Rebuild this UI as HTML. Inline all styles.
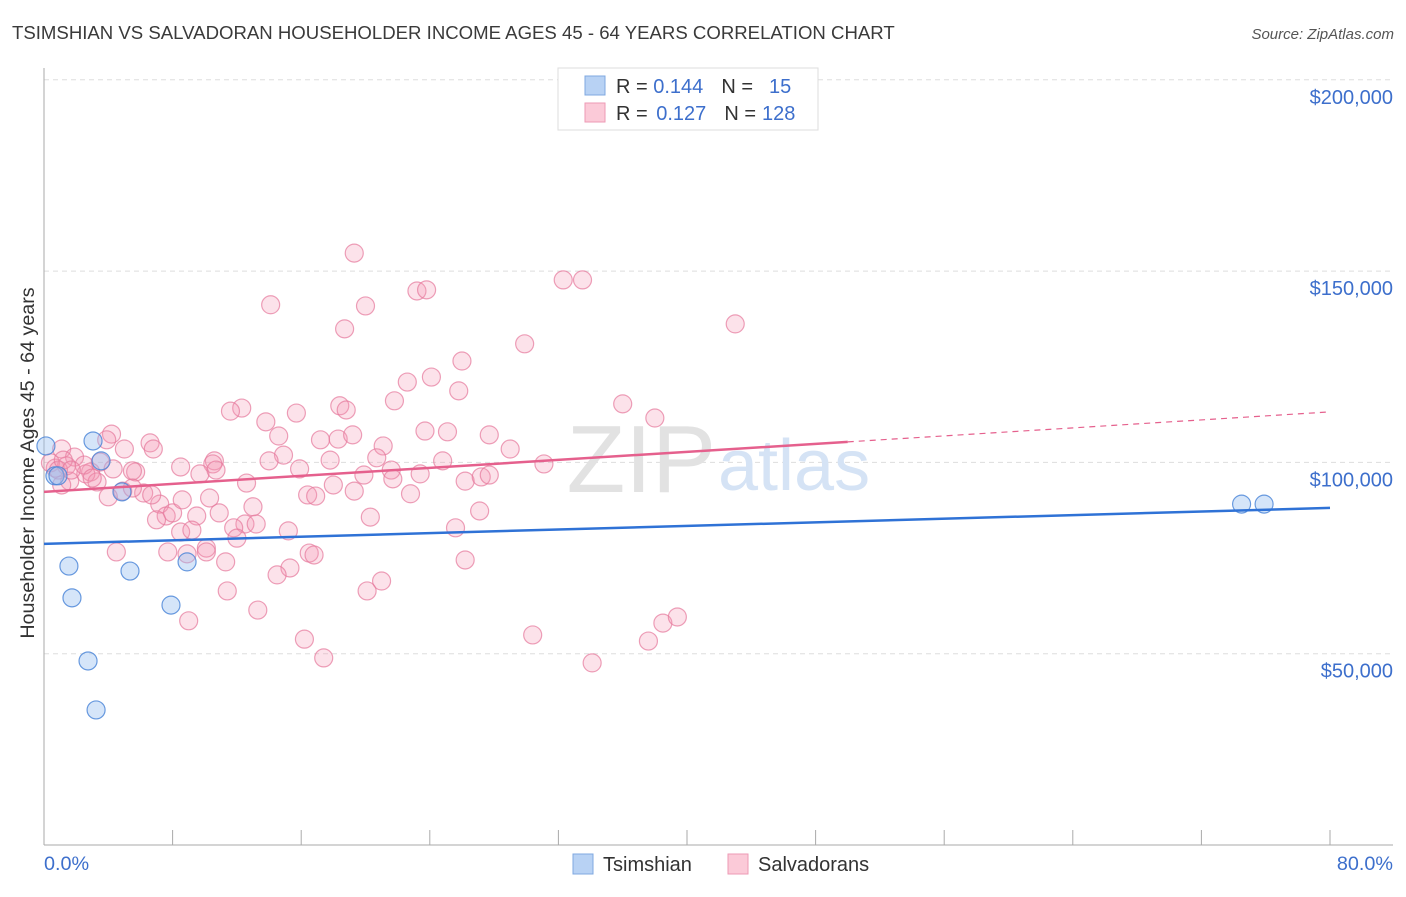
<!DOCTYPE html>
<html><head><meta charset="utf-8"><style>
body{margin:0;background:#fff;font-family:"Liberation Sans",sans-serif;}
svg text{font-family:"Liberation Sans",sans-serif;}
</style></head><body>
<svg width="1406" height="892" viewBox="0 0 1406 892" xmlns="http://www.w3.org/2000/svg">
<text x="12" y="39" font-size="18.6" fill="#3a3a3a">TSIMSHIAN VS SALVADORAN HOUSEHOLDER INCOME AGES 45 - 64 YEARS CORRELATION CHART</text>
<text x="1394" y="39" font-size="15" fill="#555" font-style="italic" text-anchor="end">Source: ZipAtlas.com</text>
<g id="grid"></g>
<g id="axes"></g>
<text x="716" y="492" font-size="96" fill="#e2e2e2" text-anchor="end" font-family="Liberation Serif">ZIP</text>
<text x="718" y="490" font-size="72" fill="#d5e3f5">atlas</text>
<g id="pts"></g>
<g id="lines"></g>
<text x="27" y="456" font-size="19.7" fill="#333" text-anchor="middle" transform="rotate(-90 34 456)">Householder Income Ages 45 - 64 years</text>
<text x="44" y="870" font-size="19.8" fill="#3d6fcc">0.0%</text>
<text x="1393" y="870" font-size="19.8" fill="#3d6fcc" text-anchor="end">80.0%</text>
<g>
<rect x="558" y="68" width="260" height="62" fill="#fff" stroke="#ddd"/>
<rect x="585" y="76" width="20" height="19" fill="#b8d2f4" stroke="#7fa8e0"/>
<rect x="585" y="103" width="20" height="19" fill="#fbcad8" stroke="#ee9ab5"/>
<text x="616" y="93" font-size="20" fill="#333">R = <tspan fill="#3d6fcc">0.144</tspan><tspan dx="18">N =</tspan><tspan fill="#3d6fcc" dx="16">15</tspan></text>
<text x="616" y="120" font-size="20" fill="#333">R = <tspan fill="#3d6fcc" dx="3">0.127</tspan><tspan dx="18">N =</tspan><tspan fill="#3d6fcc" dx="6">128</tspan></text>
</g>
<g>
<rect x="573" y="854" width="20" height="20" fill="#b8d2f4" stroke="#7fa8e0"/>
<text x="603" y="871" font-size="20" fill="#333">Tsimshian</text>
<rect x="728" y="854" width="20" height="20" fill="#fbcad8" stroke="#ee9ab5"/>
<text x="758" y="871" font-size="20" fill="#333">Salvadorans</text>
</g>
</svg>
<script>
const yTicks=[50,100,150,200];
const yTickLabels=["$50,000","$100,000","$150,000","$200,000"];
const xTicks=[0,8,16,24,32,40,48,56,64,72,80];
const blueX=[0.12,0.68,1.55,1.74,2.74,3.24,3.05,3.55,4.85,5.35,7.9,8.9,74.5,75.9,0.87];
const blueY=[104.3,96.5,72.9,64.6,48.1,35.3,105.6,100.4,92.3,71.6,62.7,74.0,89.1,89.1,96.5];
const pinkX=[19.3,14.1,20.0,18.7,23.2,23.8,32.3,33.5,43.0,29.9,26.0,22.6,24.1,25.8,21.8,36.0,38.0,12.3,11.6,18.4,18.8,15.7,13.8,23.7,25.1,27.7,14.6,17.2,18.3,19.2,21.1,29.0,4.2,3.9,6.6,6.8,1.1,1.9,5.0,14.9,14.0,10.6,10.5,17.8,20.7,24.8,31.1,8.5,5.7,5.5,15.9,19.9,21.6,21.7,23.4,26.2,27.2,27.7,2.9,2.6,3.3,1.6,1.1,0.7,1.4,12.6,9.7,6.2,4.9,4.0,7.2,10.3,13.0,16.4,16.9,19.3,22.8,27.1,7.6,7.0,8.0,9.5,10.9,12.5,13.2,11.8,12.0,8.5,9.2,15.2,20.3,25.6,4.5,7.7,8.9,10.1,10.1,11.3,16.5,16.8,15.3,14.5,21.0,20.1,26.2,11.4,13.3,9.0,16.2,17.4,30.4,34.1,37.6,38.5,39.4,0.4,0.9,1.2,2.5,1.7,3.5,3.0,4.3,5.5,6.7,8.6,10.7,18.0];
const pinkY=[154.7,141.2,140.9,134.9,144.8,145.1,147.7,147.7,136.2,131.0,126.5,121.0,122.3,118.7,116.1,115.3,111.6,114.2,113.4,114.8,113.7,112.9,110.6,108.2,108.0,107.2,106.9,105.9,106.1,107.2,104.3,103.5,107.4,105.9,105.1,103.5,103.5,101.4,103.5,101.9,100.4,100.4,99.6,100.6,101.2,100.4,99.6,98.8,97.5,97.8,98.3,96.7,98.0,95.7,97.0,95.1,96.2,96.7,97.5,97.0,94.9,95.1,94.1,98.5,99.1,94.6,97.0,92.0,92.5,91.0,89.1,90.7,88.4,91.5,91.2,92.5,91.8,87.3,86.0,85.0,86.8,86.0,86.8,83.9,83.9,82.9,80.2,81.8,82.3,82.1,85.7,82.9,76.6,76.6,76.1,77.6,76.6,74.0,76.3,75.8,72.4,70.6,69.0,66.4,74.5,66.4,61.4,58.6,53.8,48.9,54.9,47.6,53.3,58.0,59.6,99.9,98.0,100.6,99.3,98.0,100.1,95.9,98.3,93.3,91.5,90.2,98.0,94.1];
const blueTrend=[78.7,88.1];
const pinkTrend=[92.3,113.2];
const pinkSolidEnd=50;

const X=v=>44+v*(1286/80);
const Y=v=>845-v*(191.3/50);
const NS="http://www.w3.org/2000/svg";
function mk(tag,attrs,parent){const e=document.createElementNS(NS,tag);for(const k in attrs)e.setAttribute(k,attrs[k]);parent.appendChild(e);return e;}
const grid=document.getElementById('grid'),axes=document.getElementById('axes'),pts=document.getElementById('pts'),lines=document.getElementById('lines');
yTicks.forEach((t,i)=>{
  const l=mk('line',{x1:44,x2:1393,y1:Y(t),y2:Y(t),stroke:'#ddd','stroke-dasharray':'5,4'},grid);
  
  
  const tx=mk('text',{x:1393,y:Y(t)+24,'font-size':20,fill:'#3d6fcc','text-anchor':'end'},grid);
  tx.textContent=yTickLabels[i];
  
  
});
let a=mk('line',{x1:44,x2:44,y1:68,y2:845,stroke:'#aaa'},axes);


a=mk('line',{x1:44,x2:1393,y1:845,y2:845,stroke:'#aaa'},axes);


xTicks.forEach(t=>{
  const l=mk('line',{x1:X(t),x2:X(t),y1:830,y2:845,stroke:'#aaa'},axes);
  
  
});
pinkX.forEach((v,i)=>{
  const c=mk('circle',{cx:X(v),cy:Y(pinkY[i]),r:9,fill:'rgba(244,150,180,0.28)',stroke:'rgba(230,120,155,0.7)','stroke-width':1.2},pts);
  
  
});
blueX.forEach((v,i)=>{
  const c=mk('circle',{cx:X(v),cy:Y(blueY[i]),r:9,fill:'rgba(150,190,240,0.4)',stroke:'rgba(70,130,215,0.8)','stroke-width':1.2},pts);
  
  
});
let ln=mk('line',{x1:X(0),y1:Y(blueTrend[0]),x2:X(80),y2:Y(blueTrend[1]),stroke:'#2f72d6','stroke-width':2.5},lines);


const pm=pinkTrend[0]+(pinkTrend[1]-pinkTrend[0])*pinkSolidEnd/80;
ln=mk('line',{x1:X(0),y1:Y(pinkTrend[0]),x2:X(pinkSolidEnd),y2:Y(pm),stroke:'#e5608d','stroke-width':2.5},lines);


ln=mk('line',{x1:X(pinkSolidEnd),y1:Y(pm),x2:X(80),y2:Y(pinkTrend[1]),stroke:'#e5608d','stroke-width':1.2,'stroke-dasharray':'6,5'},lines);


</script>
</body></html>
